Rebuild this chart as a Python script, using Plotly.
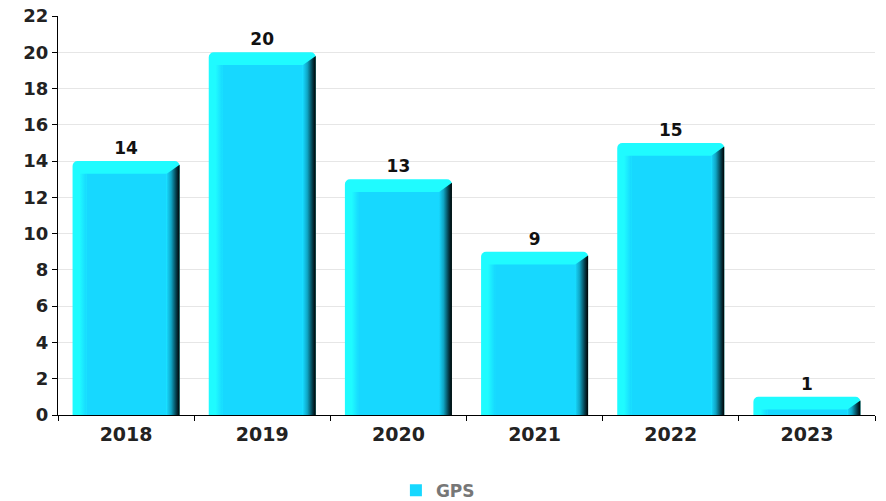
import plotly.graph_objects as go

# Data
years = ["2018", "2019", "2020", "2021", "2022", "2023"]
gps = [14, 20, 13, 9, 15, 1]
y_ticks = list(range(0, 23, 2))

pos = list(range(len(years)))

# Colours
BRIGHT = "#1ffbff"
FACE = "#17d8ff"
SIDE_SCALE = [[0, FACE], [0.35, "#0fa5c4"], [0.75, "#043a47"], [1, "#000000"]]
EDGE_SCALE = [[0, BRIGHT], [1, FACE]]

# Bevel geometry (axis units)
HALF = 0.393      # half of full bar width
BEVEL_X = 0.103   # left highlight strip
SIDE_X = 0.095    # shaded right side
BEVEL_Y = 0.70    # top highlight band
SIDE_RISE = 0.2   # side top at outer edge

fig = go.Figure()

# Outer body in highlight colour, carrying the value labels
fig.add_trace(go.Bar(
    x=pos, y=gps, width=2 * HALF,
    marker=dict(color=BRIGHT, cornerradius=5, line=dict(width=0)),
    text=[str(v) for v in gps], textposition="outside",
    textfont=dict(family="DejaVu Sans", size=17, color="#111", weight="bold"),
    cliponaxis=False, showlegend=False, hoverinfo="skip",
))

# Front face
fig.add_trace(go.Bar(
    x=pos, y=[v - BEVEL_Y for v in gps],
    width=2 * HALF - BEVEL_X - SIDE_X, offset=-HALF + BEVEL_X,
    marker=dict(color=FACE, line=dict(width=0)),
    name="GPS", showlegend=True,
))

for c, v in zip(pos, gps):
    # soft transition from the left highlight into the face
    x0 = c - HALF + 0.05
    x1 = c - HALF + BEVEL_X
    fig.add_trace(go.Scatter(
        x=[x0, x1, x1, x0], y=[0, 0, v - BEVEL_Y, v - BEVEL_Y],
        mode="lines", fill="toself", line=dict(width=0),
        fillgradient=dict(type="horizontal", colorscale=EDGE_SCALE),
        showlegend=False, hoverinfo="skip",
    ))
    # shaded right side
    s0 = c + HALF - SIDE_X
    s1 = c + HALF
    fig.add_trace(go.Scatter(
        x=[s0, s1, s1, s0], y=[0, 0, v - SIDE_RISE, v - BEVEL_Y],
        mode="lines", fill="toself", line=dict(width=0),
        fillgradient=dict(type="horizontal", colorscale=SIDE_SCALE),
        showlegend=False, hoverinfo="skip",
    ))

x_font = dict(family="DejaVu Sans", size=19, color="#222", weight="bold")
y_font = dict(family="DejaVu Sans", size=18, color="#222", weight="bold")

fig.update_layout(
    width=886, height=501,
    margin=dict(l=58, r=11, t=16, b=86, autoexpand=False),
    barmode="overlay",
    plot_bgcolor="white", paper_bgcolor="white",
    font=dict(family="DejaVu Sans"),
    xaxis=dict(
        range=[-0.5, len(years) - 0.5],
        tickmode="array", tickvals=pos, ticktext=years, ticks="",
        tickfont=x_font, ticklabelstandoff=2,
        showline=True, linecolor="black", linewidth=1,
        showgrid=False, zeroline=False,
        minor=dict(tickmode="array", tickvals=[i - 0.5 for i in range(len(years) + 1)],
                   ticks="outside", ticklen=5, tickwidth=1, tickcolor="black", showgrid=False),
    ),
    yaxis=dict(
        range=[0, 22], tickmode="array", tickvals=y_ticks,
        ticks="outside", ticklen=5, tickwidth=1, tickcolor="black",
        tickfont=y_font,
        showline=True, linecolor="black", linewidth=1,
        gridcolor="#e6e6e6", gridwidth=1, zeroline=False,
    ),
    legend=dict(
        orientation="h", x=0.465, xanchor="center", y=-0.19, yanchor="middle",
        font=dict(family="DejaVu Sans", size=17, color="#777", weight="bold"),
    ),
)

fig.write_html("out.html")
